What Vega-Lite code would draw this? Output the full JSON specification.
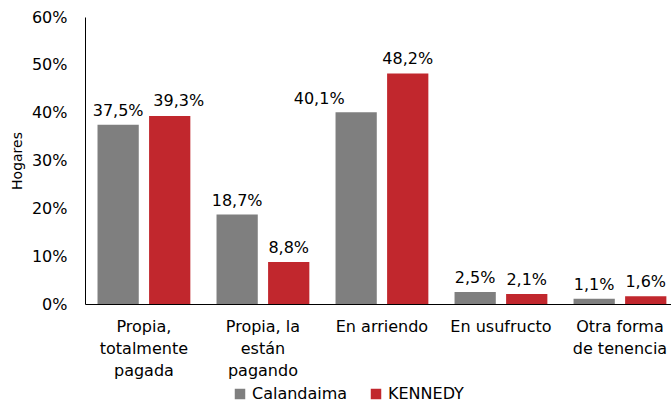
{
  "$schema": "https://vega.github.io/schema/vega-lite/v6.json",
  "autosize": {"type": "none"},
  "width": 586,
  "height": 287,
  "padding": {"left": 85, "top": 17, "right": 0, "bottom": 100},
  "background": "#ffffff",
  "config": {
    "font": "DejaVu Sans",
    "view": {"stroke": null},
    "locale": {"number": {"decimal": ",", "thousands": ".", "grouping": [3], "currency": ["$", ""]}}
  },
  "data": {
    "values": [
      {"tenencia": "Propia,|totalmente|pagada", "zona": "Calandaima", "valor": 0.375},
      {"tenencia": "Propia,|totalmente|pagada", "zona": "KENNEDY", "valor": 0.393},
      {"tenencia": "Propia, la|están|pagando", "zona": "Calandaima", "valor": 0.187},
      {"tenencia": "Propia, la|están|pagando", "zona": "KENNEDY", "valor": 0.088},
      {"tenencia": "En arriendo", "zona": "Calandaima", "valor": 0.401},
      {"tenencia": "En arriendo", "zona": "KENNEDY", "valor": 0.482},
      {"tenencia": "En usufructo", "zona": "Calandaima", "valor": 0.025},
      {"tenencia": "En usufructo", "zona": "KENNEDY", "valor": 0.021},
      {"tenencia": "Otra forma|de tenencia", "zona": "Calandaima", "valor": 0.011},
      {"tenencia": "Otra forma|de tenencia", "zona": "KENNEDY", "valor": 0.016}
    ]
  },
  "encoding": {
    "x": {
      "field": "tenencia", "type": "nominal", "sort": null,
      "scale": {"paddingInner": 0.22, "paddingOuter": 0.072, "align": 0.73},
      "axis": {
        "title": null, "labelAngle": 0, "ticks": false, "domainColor": "#000000",
        "labelExpr": "split(datum.value, '|')",
        "labelFontSize": 16, "labelColor": "#000000", "labelLineHeight": 22,
        "labelPadding": 14, "labelBaseline": "top"
      }
    },
    "xOffset": {"field": "zona", "type": "nominal", "scale": {"paddingInner": 0.2}},
    "y": {
      "field": "valor", "type": "quantitative",
      "scale": {"domain": [0, 0.6]},
      "axis": {
        "title": "Hogares", "titleFontSize": 14, "titleFontWeight": "normal", "titleColor": "#000000",
        "titlePadding": 7,
        "values": [0, 0.1, 0.2, 0.3, 0.4, 0.5, 0.6], "format": ".0%",
        "grid": false, "ticks": false, "domainColor": "#000000",
        "labelFontSize": 16, "labelColor": "#000000", "labelPadding": 18
      }
    }
  },
  "layer": [
    {
      "mark": {"type": "bar"},
      "encoding": {
        "color": {
          "field": "zona", "type": "nominal",
          "scale": {"domain": ["Calandaima", "KENNEDY"], "range": ["#7f7f7f", "#c1272d"]},
          "legend": {
            "title": null, "orient": "none", "direction": "horizontal",
            "legendX": 147, "legendY": 369,
            "symbolType": "square", "symbolSize": 110, "symbolStrokeWidth": 0,
            "labelFontSize": 16, "labelColor": "#000000", "labelOffset": 4, "columnPadding": 20
          }
        }
      }
    },
    {
      "transform": [{"filter": "datum.valor != 0.401 && datum.valor != 0.393"}],
      "mark": {"type": "text", "baseline": "bottom", "dy": -6, "fontSize": 16, "color": "#000000"},
      "encoding": {"text": {"field": "valor", "type": "quantitative", "format": ".1%"}}
    },
    {
      "transform": [{"filter": "datum.valor == 0.401"}],
      "mark": {"type": "text", "baseline": "bottom", "dy": -5, "dx": -37, "fontSize": 16, "color": "#000000"},
      "encoding": {"text": {"field": "valor", "type": "quantitative", "format": ".1%"}}
    },
    {
      "transform": [{"filter": "datum.valor == 0.393"}],
      "mark": {"type": "text", "baseline": "bottom", "dy": -7, "dx": 9, "fontSize": 16, "color": "#000000"},
      "encoding": {"text": {"field": "valor", "type": "quantitative", "format": ".1%"}}
    }
  ]
}
